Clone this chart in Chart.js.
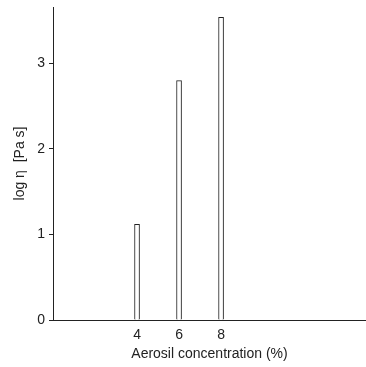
<!DOCTYPE html>
<html>
<head>
<meta charset="utf-8">
<script src="https://cdn.jsdelivr.net/npm/chart.js@4/dist/chart.umd.min.js"></script>
<style>
  html, body { margin: 0; padding: 0; background: #ffffff; }
  #wrap { width: 366px; height: 367px; }
</style>
</head>
<body>
<div id="wrap"><canvas id="aerosilChart" width="366" height="367"></canvas></div>
<script>
// Aerosil concentration (%) vs log viscosity
const concentrations = [4, 6, 8];
const logViscosity = [1.12, 2.80, 3.54];
const yTickValues = [0, 1, 2, 3];
const xTickValues = [4, 6, 8];

const inkColor = "#222222";
const fontFamily = "'Liberation Sans', Arial, sans-serif";

let canvasElement = document.getElementById("aerosilChart");

let points = concentrations.map((c, i) => ({ x: c, y: logViscosity[i] }));

let myChart = new Chart(canvasElement, {
  type: "bar",
  data: {
    datasets: [
      {
        label: "log η",
        data: points,
        backgroundColor: "#ffffff",
        borderColor: inkColor,
        borderWidth: 1,
        barThickness: 5,
      },
    ],
  },
  options: {
    responsive: false,
    animation: false,
    layout: { padding: { top: 7, right: 0, left: 0, bottom: 0 } },
    plugins: {
      legend: { display: false },
      tooltip: { enabled: false },
    },
    scales: {
      x: {
        type: "linear",
        min: 0,
        max: 14.9,
        offset: false,
        afterBuildTicks: (scale) => {
          scale.ticks = xTickValues.map((v) => ({ value: v }));
        },
        afterFit: (scale) => {
          scale.height = 47;
          scale.paddingLeft = 0;
          scale.paddingRight = 0;
        },
        grid: { drawOnChartArea: false, drawTicks: false },
        border: { color: inkColor, width: 1 },
        ticks: {
          color: inkColor,
          padding: 7,
          maxRotation: 0,
          font: { family: fontFamily, size: 14 },
        },
        title: {
          display: true,
          text: "Aerosil concentration (%)",
          color: inkColor,
          padding: { top: 0, bottom: 4 },
          font: { family: fontFamily, size: 14 },
        },
      },
      y: {
        min: 0,
        max: 3.66,
        afterBuildTicks: (scale) => {
          scale.ticks = yTickValues.map((v) => ({ value: v }));
        },
        afterFit: (scale) => {
          scale.width = 53;
          scale.paddingTop = 0;
          scale.paddingBottom = 0;
        },
        grid: {
          drawOnChartArea: false,
          drawTicks: true,
          tickLength: 4,
          color: inkColor,
        },
        border: { color: inkColor, width: 1 },
        ticks: {
          color: inkColor,
          padding: 4,
          font: { family: fontFamily, size: 14 },
        },
        title: {
          display: true,
          text: "log η  [Pa s]",
          color: inkColor,
          padding: { top: 12, bottom: 0 },
          font: { family: fontFamily, size: 14 },
        },
      },
    },
  },
});
</script>
</body>
</html>
